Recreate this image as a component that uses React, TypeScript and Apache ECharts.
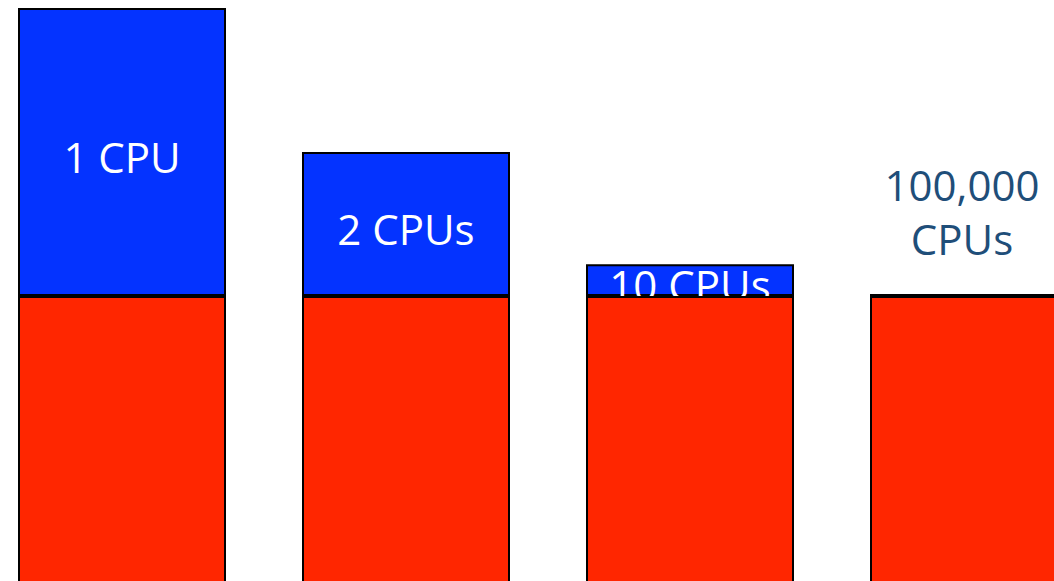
import React, { useEffect, useRef } from "react";
import * as echarts from "echarts";

const categories = ["1 CPU", "2 CPUs", "10 CPUs", "100,000 CPUs"];
const serialWork = [100, 100, 100, 100];
const parallelWork = [100, 50, 11, 0.7];
const labelTexts = ["1 CPU", "2 CPUs", "10 CPUs", "100,000\nCPUs"];

const BLUE = "#0433FF";
const RED = "#FF2600";
const DARK_BLUE = "#1F4E79";

export default function App() {
  const ref = useRef<HTMLDivElement>(null);
  useEffect(() => {
    document.body.style.margin = "0";
    document.body.style.overflow = "hidden";
    document.documentElement.style.overflow = "hidden";
    const chart = echarts.init(ref.current!, undefined, { renderer: "svg" });
    const parallelData = parallelWork.map((v, i) => {
      const outside = i === labelTexts.length - 1;
      return {
        value: v,
        label: outside
          ? {
              show: true,
              position: "top",
              distance: 28,
              offset: [-12, 0],
              color: DARK_BLUE,
              formatter: labelTexts[i],
            }
          : {
              show: true,
              position: "inside",
              offset: [0, 4],
              color: "#FFFFFF",
              formatter: labelTexts[i],
            },
      };
    });
    chart.setOption({
      animation: false,
      grid: { left: 0, right: 0, top: 8, bottom: 0 },
      xAxis: {
        type: "category",
        data: categories,
        show: false,
      },
      yAxis: { type: "value", min: 0, max: 200, show: false },
      series: [
        {
          name: "serial",
          type: "bar",
          stack: "work",
          data: serialWork,
          barWidth: 208,
          z: 3,
          itemStyle: { color: RED, borderColor: "#000", borderWidth: 2 },
          label: { show: false },
        },
        {
          name: "parallel",
          type: "bar",
          stack: "work",
          data: parallelData,
          barWidth: 208,
          z: 2,
          itemStyle: { color: BLUE, borderColor: "#000", borderWidth: 2 },
          label: {
            show: true,
            fontFamily: "Open Sans",
            fontSize: 42,
            lineHeight: 54,
          },
        },
      ],
    });
    return () => chart.dispose();
  }, []);
  return (
    <div
      ref={ref}
      style={{ position: "absolute", left: -20, top: 0, width: 1136, height: 584 }}
    />
  );
}
